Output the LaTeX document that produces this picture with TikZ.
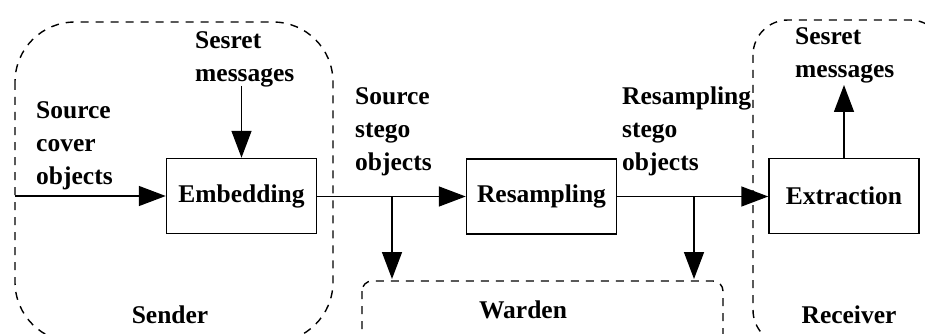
\documentclass[tikz,border=0pt]{standalone}
\usepackage{fontspec}
\setmainfont{Liberation Serif}
\usetikzlibrary{arrows.meta}
\begin{document}
\begin{tikzpicture}[x=1pt,y=-1pt,
  lbl/.style={font=\bfseries\fontsize{25.5}{33}\selectfont, inner sep=0pt},
  txt/.style={lbl, align=left, anchor=north west},
  proc/.style={draw, line width=1.5pt, minimum width=150pt, minimum height=75pt, lbl},
  region/.style={draw, line width=1.4pt, dash pattern=on 8pt off 7pt},
  flow/.style={line width=1.5pt, -{Triangle[length=27pt,width=20pt]}}]
\useasboundingbox (0,0) rectangle (925,334);
\fill[white] (0,0) rectangle (925,334);
\clip (0,0) rectangle (925,334);
% regions
\draw[region, rounded corners=60pt] (15,22) rectangle (333,342);
\draw[region, rounded corners=10pt] (362,281) rectangle (723,370);
\draw[region, rounded corners=35pt] (753,20) rectangle (945,345);
% process boxes
\node[proc] (emb) at (241.5,196) {Embedding};
\node[proc] (res) at (541.5,196.5) {Resampling};
\node[proc] (ext) at (844,196) {Extraction};
% labels
\node[txt] (lsc) at (36,101) {Source\\cover\\objects};
\node[txt] (lsm) at (195,31) {Sesret\\messages};
\node[txt] (lss) at (355,87) {Source\\stego\\objects};
\node[txt] (lrs) at (622,87) {Resampling\\stego\\objects};
\node[txt] (lrm) at (795,27) {Sesret\\messages};
\node[lbl] (lsend) at (170,315) {Sender};
\node[lbl] (lward) at (523,310) {Warden};
\node[lbl] (lrecv) at (849,315) {Receiver};
% coordinates
\coordinate (cin) at (15,196);
\coordinate (msgin) at (241.5,86);
\coordinate (br1) at (392,196.5);
\coordinate (br2) at (694,196.5);
\coordinate (w1) at (392,279);
\coordinate (w2) at (694,279);
\coordinate (msgout) at (844,85);
% connectors
\draw[flow] (cin) -- (emb.west);
\draw[flow] (msgin) -- (emb.north);
\draw[flow] (emb.east |- res.west) -- (res.west);
\draw[flow] (res.east) -- (res.east -| ext.west);
\draw[flow] (br1) -- (w1);
\draw[flow] (br2) -- (w2);
\draw[flow] (ext.north) -- (msgout);
\end{tikzpicture}
\end{document}
